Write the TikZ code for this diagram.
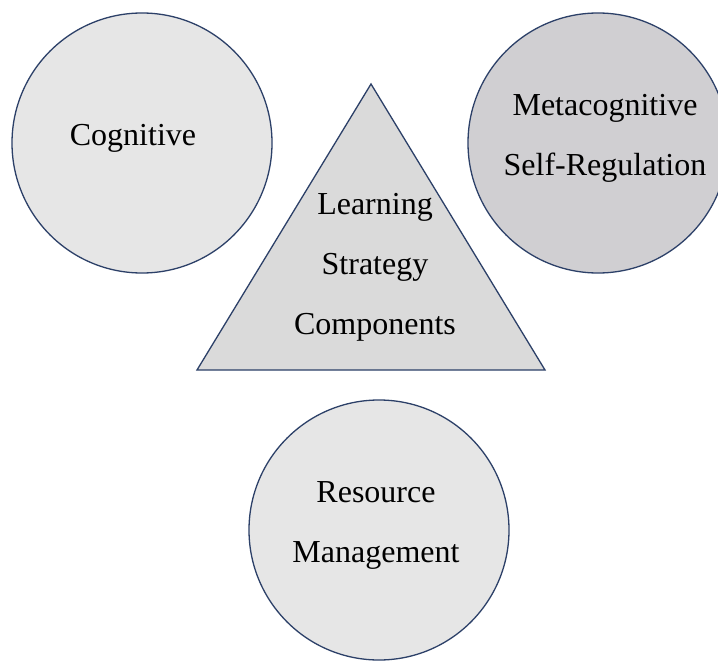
\documentclass[tikz,border=0pt]{standalone}
\usepackage{fontspec}
\setmainfont{Liberation Serif}
\definecolor{edge}{RGB}{44,64,104}
\definecolor{lightfill}{RGB}{230,230,230}
\definecolor{darkfill}{RGB}{208,207,210}
\definecolor{trifill}{RGB}{218,218,218}
\tikzset{
  circ/.style={circle, draw=edge, line width=1.3bp, minimum size=260bp, inner sep=0pt},
  txt/.style={align=center, font=\fontsize{32bp}{60bp}\selectfont, text=black, inner sep=0pt}
}
\begin{document}
\begin{tikzpicture}[x=1bp,y=-1bp]
\clip (0,0) rectangle (718,661);
\fill[white] (0,0) rectangle (718,661);
% circles
\node[circ, fill=lightfill] (cog) at (142,143) {};
\node[txt] (cogt) at (133,138) {Cognitive};
\node[circ, fill=darkfill] (meta) at (598,143) {};
\node[txt] (metat) at (605,138) {Metacognitive\\Self-Regulation};
\node[circ, fill=lightfill] (res) at (379,530) {};
\node[txt] (rest) at (376,525) {Resource\\Management};
% triangle
\coordinate (apex) at (371,84);
\coordinate (bl) at (197,370);
\coordinate (br) at (545,370);
\filldraw[fill=trifill, draw=edge, line width=1.3bp, line join=miter] (apex) -- (bl) -- (br) -- cycle;
\node[txt] (trit) at (375,267) {Learning\\Strategy\\Components};
\end{tikzpicture}
\end{document}
